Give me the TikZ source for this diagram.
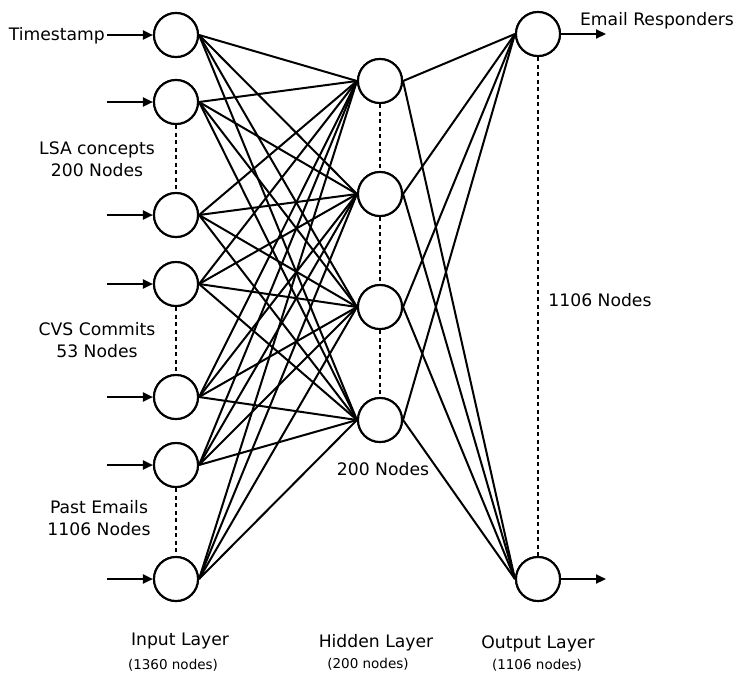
\documentclass[tikz,border=0pt]{standalone}
\usepackage{fontspec}
\setmainfont{DejaVu Sans}
\usetikzlibrary{arrows.meta}
\begin{document}
\begin{tikzpicture}[x=1pt,y=-1pt,
  neuron/.style={circle,draw,line width=2.1pt,minimum size=44pt,inner sep=0pt,fill=white},
  conn/.style={line width=2pt},
  dots/.style={line width=2.2pt,dash pattern=on 4pt off 3.5pt},
  inarrow/.style={line width=2.1pt,-{Triangle[length=10pt,width=9pt]}},
  lbl/.style={font=\fontsize{17.2}{22.5}\selectfont,align=center,inner sep=0pt},
  small/.style={font=\fontsize{13.5}{16}\selectfont,inner sep=0pt}]
\useasboundingbox (0,0) rectangle (735,675);
% input layer
\foreach \n/\y in {1/35,2/102,3/215,4/284,5/397,6/465,7/579}{
  \node[neuron] (i\n) at (176,\y) {};
  \coordinate (a\n) at (107,\y);
}
% hidden layer
\foreach \n/\y in {1/81,2/194,3/307,4/420}{
  \node[neuron] (h\n) at (380,\y) {};
}
% output layer
\node[neuron] (o1) at (538,34) {};
\node[neuron] (o2) at (538,579) {};
\coordinate (b1) at (606,34);
\coordinate (b2) at (606,579);
% connections
\foreach \i in {1,...,7}{
  \foreach \h in {1,...,4}{
    \draw[conn] (i\i.east) -- (h\h.west);
  }
}
\foreach \h in {1,...,4}{
  \foreach \o in {1,2}{
    \draw[conn] (h\h.east) -- (o\o.west);
  }
}
% redraw neurons on top
\foreach \n/\y in {1/35,2/102,3/215,4/284,5/397,6/465,7/579}{
  \node[neuron] at (176,\y) {};
}
\foreach \n/\y in {1/81,2/194,3/307,4/420}{
  \node[neuron] at (380,\y) {};
}
\node[neuron] at (538,34) {};
\node[neuron] at (538,579) {};
% input arrows
\foreach \n in {1,...,7}{
  \draw[inarrow] (a\n) -- (i\n.west);
}
% output arrows
\draw[inarrow] (o1.east) -- (b1);
\draw[inarrow] (o2.east) -- (b2);
% dotted continuations
\draw[dots] (i2.south) -- (i3.north);
\draw[dots] (i4.south) -- (i5.north);
\draw[dots] (i6.south) -- (i7.north);
\draw[dots] (h1.south) -- (h2.north);
\draw[dots] (h2.south) -- (h3.north);
\draw[dots] (h3.south) -- (h4.north);
\draw[dots] (o1.south) -- (o2.north);
% labels
\node[lbl,anchor=east] (tTime) at (105,36) {Timestamp};
\node[lbl] (tLSA) at (97,159) {LSA concepts\\200 Nodes};
\node[lbl] (tCVS) at (97,340) {CVS Commits\\53 Nodes};
\node[lbl] (tPast) at (99,518) {Past Emails\\1106 Nodes};
\node[lbl] (tHid) at (383,469) {200 Nodes};
\node[lbl] (tOut) at (600,300) {1106 Nodes};
\node[lbl] (tEmail) at (657,21) {Email Responders};
\node[lbl] (tIL) at (180,641) {Input Layer};
\node[small] (tILn) at (173,665) {(1360 nodes)};
\node[lbl] (tHL) at (376,643) {Hidden Layer};
\node[small] (tHLn) at (368,664) {(200 nodes)};
\node[lbl] (tOL) at (538,644) {Output Layer};
\node[small] (tOLn) at (537,665) {(1106 nodes)};
\end{tikzpicture}
\end{document}
